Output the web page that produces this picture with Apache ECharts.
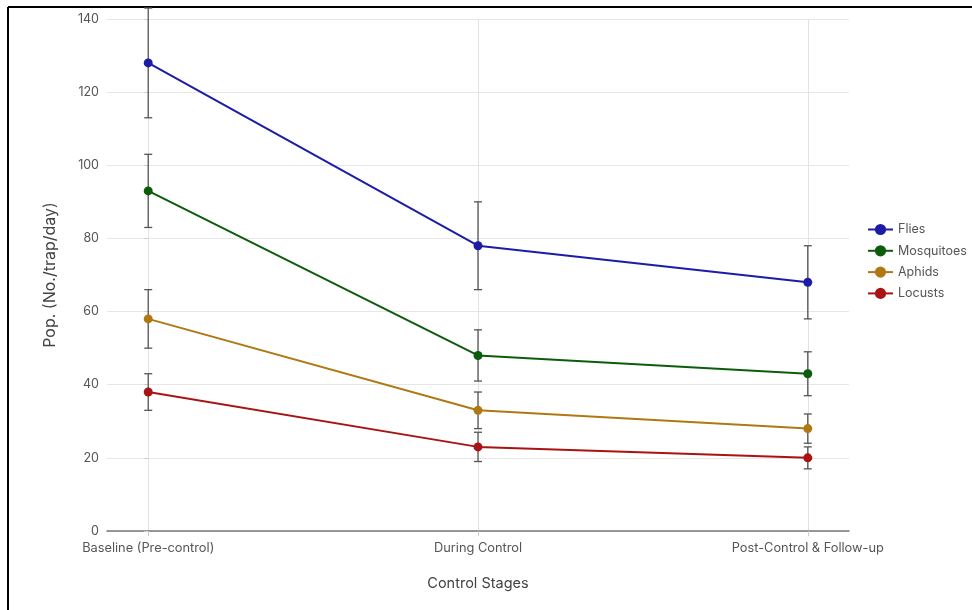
<!DOCTYPE html>
<html>
<head>
<meta charset="utf-8">
<script src="https://cdn.jsdelivr.net/npm/echarts@6/dist/echarts.min.js"></script>
<style>
html,body{margin:0;padding:0;background:#fff;}
#c{width:972px;height:610px;}
</style>
</head>
<body>
<div id="c"></div>
<script>
const categories = ['Baseline (Pre-control)', 'During Control', 'Post-Control & Follow-up'];
const seriesNames = ['Flies', 'Mosquitoes', 'Aphids', 'Locusts'];
const fliesMean = [128, 78, 68];
const fliesErr = [15, 12, 10];
const mosquitoesMean = [93, 48, 43];
const mosquitoesErr = [10, 7, 6];
const aphidsMean = [58, 33, 28];
const aphidsErr = [8, 5, 4];
const locustsMean = [38, 23, 20];
const locustsErr = [5, 4, 3];
const yTicks = [0, 20, 40, 60, 80, 100, 120, 140];
const colors = ['#1c1ca6', '#0c5c0c', '#b07812', '#a81414'];

const means = [fliesMean, mosquitoesMean, aphidsMean, locustsMean];
const errs = [fliesErr, mosquitoesErr, aphidsErr, locustsErr];
const FONT = 'Inter';

const chart = echarts.init(document.getElementById('c'));

const series = [];
series.push({
  type: 'line', data: [], silent: true, z: 0,
  markLine: {
    silent: true, symbol: 'none', label: {show: false}, z: 0,
    lineStyle: {color: '#e2e2e2', width: 1, type: 'solid'},
    emphasis: {disabled: true},
    data: categories.map((c, i) => ({xAxis: i}))
  }
});
means.forEach((m, si) => {
  series.push({
    name: seriesNames[si], type: 'line', z: 3,
    data: m.map((v, i) => [i, v]),
    symbol: 'circle', symbolSize: 9,
    lineStyle: {color: colors[si], width: 2},
    itemStyle: {color: colors[si]},
    emphasis: {disabled: true}
  });
  series.push({
    type: 'custom', z: 2, silent: true,
    data: m.map((v, i) => [i, v - errs[si][i], v + errs[si][i]]),
    renderItem: function (params, api) {
      const x = api.value(0);
      const lo = api.coord([x, api.value(1)]);
      const hi = api.coord([x, api.value(2)]);
      const w = 4;
      const st = {stroke: '#555', lineWidth: 1.3};
      return {type: 'group', children: [
        {type: 'line', shape: {x1: lo[0], y1: lo[1], x2: hi[0], y2: hi[1]}, style: st},
        {type: 'line', shape: {x1: lo[0] - w, y1: lo[1], x2: lo[0] + w, y2: lo[1]}, style: st},
        {type: 'line', shape: {x1: hi[0] - w, y1: hi[1], x2: hi[0] + w, y2: hi[1]}, style: st}
      ]};
    }
  });
});

chart.setOption({
  animation: false,
  backgroundColor: '#fff',
  textStyle: {fontFamily: FONT},
  grid: {left: 107, right: 123, top: 19, bottom: 79, containLabel: false},
  legend: {
    orient: 'vertical', left: 862, top: 218, itemWidth: 25, itemHeight: 14, itemGap: 8.3,
    data: seriesNames,
    textStyle: {fontFamily: FONT, fontSize: 12.5, color: '#555'}
  },
  xAxis: {
    type: 'value', min: -0.125, max: 2.125,
    name: 'Control Stages', nameLocation: 'middle', nameGap: 45,
    nameTextStyle: {fontFamily: FONT, fontSize: 14.5, color: '#444'},
    axisLine: {show: true, lineStyle: {color: '#777', width: 1.5}},
    axisTick: {show: true, customValues: [0, 1, 2], length: 5, lineStyle: {color: '#ccc'}},
    axisLabel: {customValues: [0, 1, 2], formatter: v => categories[Math.round(v)], fontFamily: FONT, fontSize: 12.8, color: '#555', margin: 11},
    splitLine: {show: false}
  },
  yAxis: {
    type: 'value', min: 0, max: 140, interval: 20,
    name: 'Pop. (No./trap/day)', nameLocation: 'middle', nameGap: 49,
    nameTextStyle: {fontFamily: FONT, fontSize: 16, color: '#444'},
    axisLine: {show: false},
    axisTick: {show: true, length: 4, lineStyle: {color: '#ccc'}},
    axisLabel: {fontFamily: FONT, fontSize: 12.5, color: '#555', margin: 8,
      formatter: v => String(yTicks[yTicks.indexOf(v)])},
    splitLine: {show: true, lineStyle: {color: '#e6e6e6', width: 1}}
  },
  graphic: [
    {type: 'line', silent: true, shape: {x1: 8, y1: 7, x2: 972, y2: 7}, style: {stroke: '#000', lineWidth: 2}},
    {type: 'line', silent: true, shape: {x1: 8, y1: 7, x2: 8, y2: 610}, style: {stroke: '#000', lineWidth: 2}}
  ],
  series: series
});
</script>
</body>
</html>
